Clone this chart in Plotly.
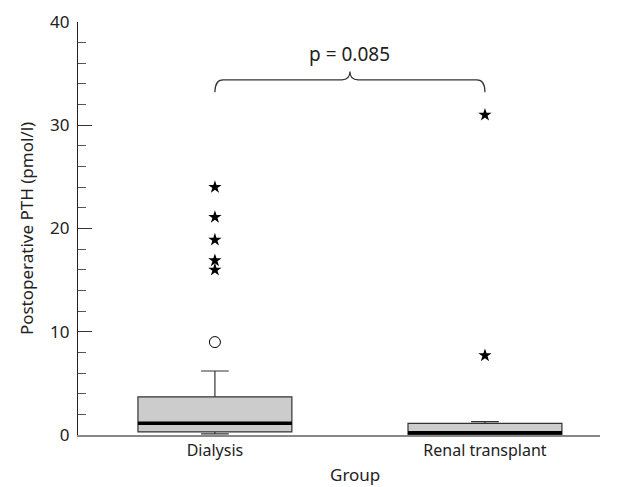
import plotly.graph_objects as go

groups = ["Dialysis", "Renal transplant"]
q1 = [0.3, 0.07]
median = [1.15, 0.22]
q3 = [3.7, 1.12]
lower_whisker = [0.1, 0.05]
upper_whisker = [6.2, 1.3]
mild_outliers_group = ["Dialysis"]
mild_outliers_value = [9.0]
extreme_outliers_group = ["Dialysis"] * 5 + ["Renal transplant"] * 2
extreme_outliers_value = [24.0, 21.1, 18.9, 16.9, 16.0, 31.0, 7.7]
p_text = "p = 0.085"
x_title = "Group"
y_title = "Postoperative PTH (pmol/l)"

FONT = "'Noto Sans', 'DejaVu Sans', sans-serif"
BOX_W = 0.57

fig = go.Figure()
fig.add_trace(go.Box(
    x=groups, q1=q1, median=median, q3=q3,
    lowerfence=lower_whisker, upperfence=upper_whisker,
    width=BOX_W, whiskerwidth=0.18,
    fillcolor="#cccccc", line=dict(color="#333333", width=1.2),
    boxpoints=False, showlegend=False, hoverinfo="skip",
))
fig.add_trace(go.Scatter(
    x=extreme_outliers_group, y=extreme_outliers_value, mode="markers",
    marker=dict(symbol="star", size=10, color="black"), showlegend=False,
))
fig.add_trace(go.Scatter(
    x=mild_outliers_group, y=mild_outliers_value, mode="markers",
    marker=dict(symbol="circle-open", size=11, color="black", line=dict(width=1)),
    showlegend=False,
))

# thick median lines
for i, m in enumerate(median):
    fig.add_shape(type="line", xref="x", yref="y",
                  x0=i - BOX_W / 2, x1=i + BOX_W / 2, y0=m, y1=m,
                  line=dict(color="black", width=3.5))

# curly brace between groups
xl, xr = 0, 1
xm = (xl + xr) / 2
yb, yh, yp = 33.2, 34.4, 35.2
dx = 0.03
path = (f"M {xl},{yb} Q {xl},{yh} {xl+dx},{yh} L {xm-dx},{yh} "
        f"Q {xm},{yh} {xm},{yp} Q {xm},{yh} {xm+dx},{yh} L {xr-dx},{yh} "
        f"Q {xr},{yh} {xr},{yb}")
fig.add_shape(type="path", xref="x", yref="y", path=path,
              line=dict(color="#333333", width=1.2))
fig.add_annotation(x=xm, y=36.9, xref="x", yref="y", text=p_text,
                   showarrow=False, font=dict(size=19, family=FONT, color="#222"))

# x-axis title (placed slightly right of plot centre, as in the original)
fig.add_annotation(x=0.531, y=0, xref="paper", yref="paper", yshift=-39,
                   yanchor="middle", text=x_title, showarrow=False,
                   font=dict(size=17, family=FONT, color="#222"))

fig.update_layout(
    width=609, height=479,
    margin=dict(l=70, r=17, t=14, b=52),
    plot_bgcolor="white", paper_bgcolor="white",
    font=dict(family=FONT, color="#222"),
)
fig.update_xaxes(
    type="category", range=[-0.507, 1.426], automargin=False,
    showline=True, linecolor="#888888", linewidth=1.5,
    showgrid=False, zeroline=False, ticks="",
    tickfont=dict(size=16),
)
fig.update_yaxes(
    range=[0, 40], automargin=False,
    showline=True, linecolor="#222", linewidth=1.2,
    showgrid=False, zeroline=False,
    tickvals=[0, 10, 20, 30, 40], ticks="inside", ticklen=14, tickcolor="#333",
    minor=dict(dtick=2, ticks="inside", ticklen=8, tickcolor="#555"),
    tickfont=dict(size=17), ticklabelstandoff=4,
    title=dict(text=y_title, font=dict(size=17), standoff=12),
)

fig.write_html("out.html")
